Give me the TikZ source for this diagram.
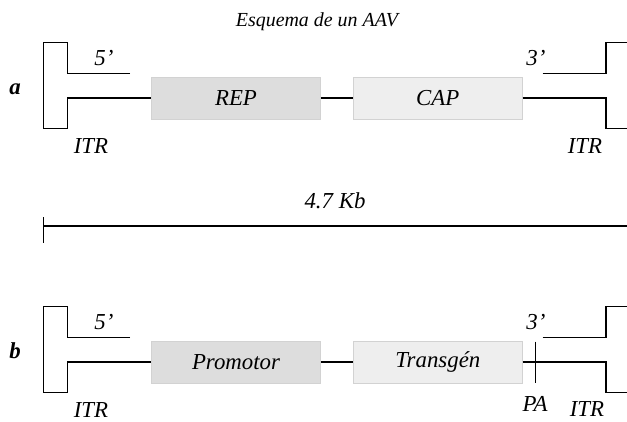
\documentclass[tikz,border=0pt]{standalone}
\usepackage{fontspec}
\setmainfont{Liberation Serif}
\usepackage{xcolor}
\usepackage{tikz}
\usetikzlibrary{calc}
\definecolor{ink}{HTML}{000000}
\definecolor{boxdark}{HTML}{DDDDDD}
\definecolor{boxlight}{HTML}{EEEEEE}
\definecolor{boxline}{HTML}{D2D2D2}
\tikzset{
  strand/.style={draw=ink, line width=1.2pt, line cap=butt, line join=miter},
  gene/.style={draw=boxline, line width=0.5pt, minimum width=5.07cm, minimum height=1.25cm, inner sep=0pt, font=\fontsize{19.5}{23}\selectfont\itshape},
  lab/.style={font=\fontsize{19.5}{23}\selectfont\itshape, inner sep=0pt, anchor=base},
  rowlab/.style={font=\fontsize{19.5}{23}\selectfont\bfseries\itshape, inner sep=0pt, anchor=base},
}

\begin{document}
\begin{tikzpicture}[x=0.03cm, y=-0.03cm]
  \useasboundingbox (0,0) rectangle (627,421);
  \node[lab, font=\fontsize{17}{20}\selectfont\itshape] (title) at (317,26) {Esquema de un AAV};
  % both constructs share the same layout, row b is shifted down
  \foreach \dy/\rl/\ga/\gb in {0/a/REP/CAP, 264/b/Promotor/Transgén}{
    \begin{scope}[shift={(0,\dy)}]
      \node[gene, fill=boxdark] (\rl1) at (236,98) {\ga};
      \node[gene, fill=boxlight] (\rl2) at (437.8,98) {\gb};
      \node[rowlab] (\rl) at (15,94) {\rl};
      \draw[strand] (130,73.3) -- (67.7,73.3) -- (67.7,42.7) -- (43.7,42.7)
        -- (43.7,128.3) -- (67.7,128.3) -- (67.7,98) -- (\rl1.west);
      \draw[strand] (\rl1.east) -- (\rl2.west);
      \draw[strand] (\rl2.east) -- (606,98) -- (606,128.3) -- (627,128.3);
      \draw[strand] (542.7,73.3) -- (606,73.3) -- (606,42.7) -- (627,42.7);
      \node[lab] (\rl five) at (104,65) {5’};
      \node[lab] (\rl three) at (536,65) {3’};
      \node[lab] (\rl itrl) at (91,153) {ITR};
    \end{scope}
  }
  \node[lab] (a itrr) at (585,153) {ITR};
  \node[lab] (b itrr) at (587,416) {ITR};
  % polyA signal
  \coordinate (pa top) at (535.7,341.7);
  \coordinate (pa bot) at (535.7,382.7);
  \draw[strand] (pa top) -- (pa bot);
  \node[lab] (pa) at (535,411) {PA};
  % size bar
  \node[lab] (size) at (335,208) {4.7 Kb};
  \coordinate (bar0) at (43.7,226);
  \coordinate (bar1) at (627,226);
  \draw[strand] (bar0) -- (bar1);
  \draw[strand] (43.7,217) -- (43.7,243);
\end{tikzpicture}
\end{document}
